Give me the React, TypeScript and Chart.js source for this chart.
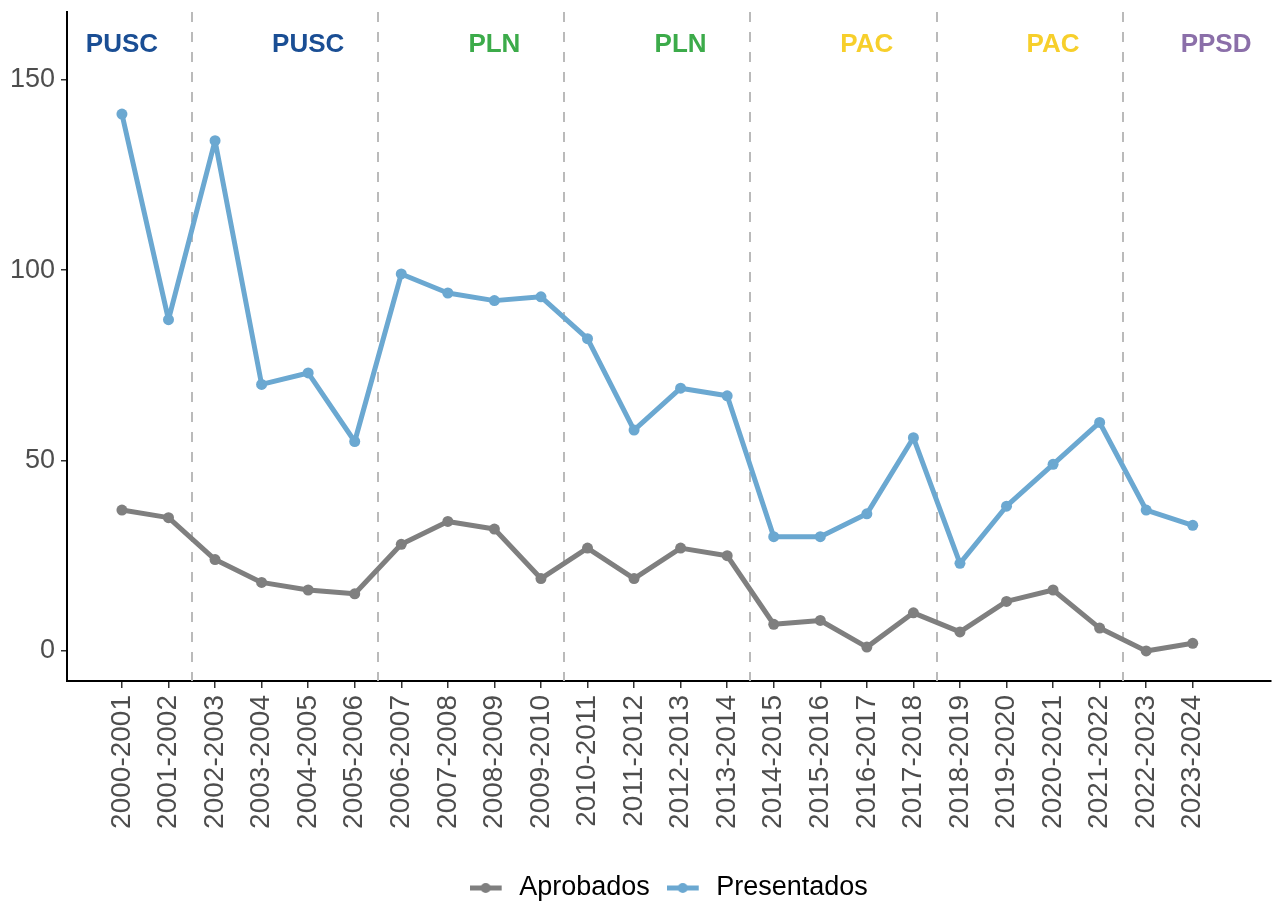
import React, { useEffect, useRef } from "react";
import { Chart, registerables } from "chart.js";

Chart.register(...registerables);

const categories = [
  "2000-2001", "2001-2002", "2002-2003", "2003-2004", "2004-2005", "2005-2006",
  "2006-2007", "2007-2008", "2008-2009", "2009-2010", "2010-2011", "2011-2012",
  "2012-2013", "2013-2014", "2014-2015", "2015-2016", "2016-2017", "2017-2018",
  "2018-2019", "2019-2020", "2020-2021", "2021-2022", "2022-2023", "2023-2024",
];
const presentados = [141, 87, 134, 70, 73, 55, 99, 94, 92, 93, 82, 58, 69, 67, 30, 30, 36, 56, 23, 38, 49, 60, 37, 33];
const aprobados = [37, 35, 24, 18, 16, 15, 28, 34, 32, 19, 27, 19, 27, 25, 7, 8, 1, 10, 5, 13, 16, 6, 0, 2];
const yTicks = [0, 50, 100, 150];
const periodBreaks = [1.5, 5.5, 9.5, 13.5, 17.5, 21.5];
const partyNames = ["PUSC", "PUSC", "PLN", "PLN", "PAC", "PAC", "PPSD"];
const partyPositions = [0, 4, 8, 12, 16, 20, 23.5];
const partyColors = ["#1a4e94", "#1a4e94", "#3cab4a", "#3cab4a", "#f7cf2b", "#f7cf2b", "#8b6fa9"];
const partyLabelY = 159.2;

const GRAY = "#7f7f7f";
const BLUE = "#6ba8d1";
const FONT = "'Liberation Sans', Arial, Helvetica, sans-serif";

function makeKey(color: string): HTMLCanvasElement {
  const c = document.createElement("canvas");
  c.width = 36;
  c.height = 14;
  const ctx = c.getContext("2d")!;
  ctx.strokeStyle = color;
  ctx.fillStyle = color;
  ctx.lineWidth = 5;
  ctx.beginPath();
  ctx.moveTo(0, 7);
  ctx.lineTo(32, 7);
  ctx.stroke();
  ctx.beginPath();
  ctx.arc(16, 7, 5, 0, Math.PI * 2);
  ctx.fill();
  return c;
}

const annotationsPlugin = {
  id: "periodAnnotations",
  beforeDatasetsDraw(chart: any) {
    const { ctx, chartArea, scales } = chart;
    ctx.save();
    ctx.strokeStyle = "#bababa";
    ctx.lineWidth = 2;
    ctx.setLineDash([10, 10]);
    periodBreaks.forEach((b) => {
      const x = Math.round(scales.x.getPixelForValue(b));
      ctx.beginPath();
      ctx.moveTo(x, chartArea.top);
      ctx.lineTo(x, chartArea.bottom);
      ctx.stroke();
    });
    ctx.restore();
  },
  afterDatasetsDraw(chart: any) {
    const { ctx, scales } = chart;
    ctx.save();
    ctx.font = `bold 26px ${FONT}`;
    ctx.textAlign = "center";
    ctx.textBaseline = "middle";
    partyNames.forEach((name, i) => {
      ctx.fillStyle = partyColors[i];
      ctx.fillText(name, scales.x.getPixelForValue(partyPositions[i]), scales.y.getPixelForValue(partyLabelY));
    });
    ctx.restore();
  },
};

export default function App() {
  const ref = useRef<HTMLCanvasElement | null>(null);

  useEffect(() => {
    if (!ref.current) return;
    const keys = [makeKey(GRAY), makeKey(BLUE)];
    const chart = new Chart(ref.current, {
      type: "line",
      data: {
        datasets: [
          {
            label: "Aprobados",
            data: aprobados.map((v, i) => ({ x: i, y: v })),
            borderColor: GRAY,
            backgroundColor: GRAY,
            borderWidth: 5,
            borderJoinStyle: "round",
            borderCapStyle: "round",
            pointRadius: 5.5,
            pointBorderWidth: 0,
            pointBackgroundColor: GRAY,
            tension: 0,
            order: 2,
          },
          {
            label: "Presentados",
            data: presentados.map((v, i) => ({ x: i, y: v })),
            borderColor: BLUE,
            backgroundColor: BLUE,
            borderWidth: 5,
            borderJoinStyle: "round",
            borderCapStyle: "round",
            pointRadius: 5.5,
            pointBorderWidth: 0,
            pointBackgroundColor: BLUE,
            tension: 0,
            order: 1,
          },
        ],
      },
      options: {
        animation: false,
        responsive: false,
        devicePixelRatio: 1,
        layout: { padding: { top: 12, left: 0, right: 0, bottom: -8.5 } },
        plugins: {
          tooltip: { enabled: false },
          legend: {
            position: "bottom",
            fullSize: false,
            labels: {
              usePointStyle: true,
              pointStyleWidth: 36,
              padding: 17,
              color: "#000000",
              font: { size: 27, family: FONT },
              generateLabels: () => [
                { text: "Aprobados", pointStyle: keys[0] as any, fillStyle: GRAY, strokeStyle: GRAY, lineWidth: 0, hidden: false, datasetIndex: 0 },
                { text: "Presentados", pointStyle: keys[1] as any, fillStyle: BLUE, strokeStyle: BLUE, lineWidth: 0, hidden: false, datasetIndex: 1 },
              ],
            },
          },
        },
        scales: {
          x: {
            type: "linear",
            min: -1.18,
            max: 24.67,
            afterBuildTicks: (s: any) => {
              s.ticks = categories.map((_, i) => ({ value: i }));
            },
            afterFit: (s: any) => {
              s.height = 176.5;
              s.paddingLeft = 0;
              s.paddingRight = 0;
            },
            ticks: {
              autoSkip: false,
              minRotation: 90,
              maxRotation: 90,
              padding: 7,
              color: "#4d4d4d",
              font: { size: 28, family: FONT },
              callback: (v: any) => categories[v as number] ?? "",
            },
            grid: { drawOnChartArea: false, drawTicks: true, tickLength: 7, color: "#333333", lineWidth: 1.5 },
            border: { display: true, color: "#000000", width: 2 },
          },
          y: {
            type: "linear",
            min: -7.9,
            max: 167.8,
            afterBuildTicks: (s: any) => {
              s.ticks = yTicks.map((v) => ({ value: v }));
            },
            afterFit: (s: any) => {
              s.width = 67;
              s.paddingTop = 0;
              s.paddingBottom = 0;
            },
            ticks: {
              padding: 6,
              color: "#4d4d4d",
              font: { size: 27, family: FONT },
              callback: (v: any) => String(v),
            },
            grid: { drawOnChartArea: false, drawTicks: true, tickLength: 6, color: "#333333", lineWidth: 1.5 },
            border: { display: true, color: "#000000", width: 2 },
          },
        },
      },
      plugins: [annotationsPlugin],
    });
    return () => chart.destroy();
  }, []);

  return (
    <div style={{ position: "fixed", left: 0, top: 0, width: 1276, height: 903, overflow: "hidden", background: "#ffffff" }}>
      <canvas ref={ref} width={1276} height={903} style={{ display: "block", width: 1276, height: 903 }} />
    </div>
  );
}
